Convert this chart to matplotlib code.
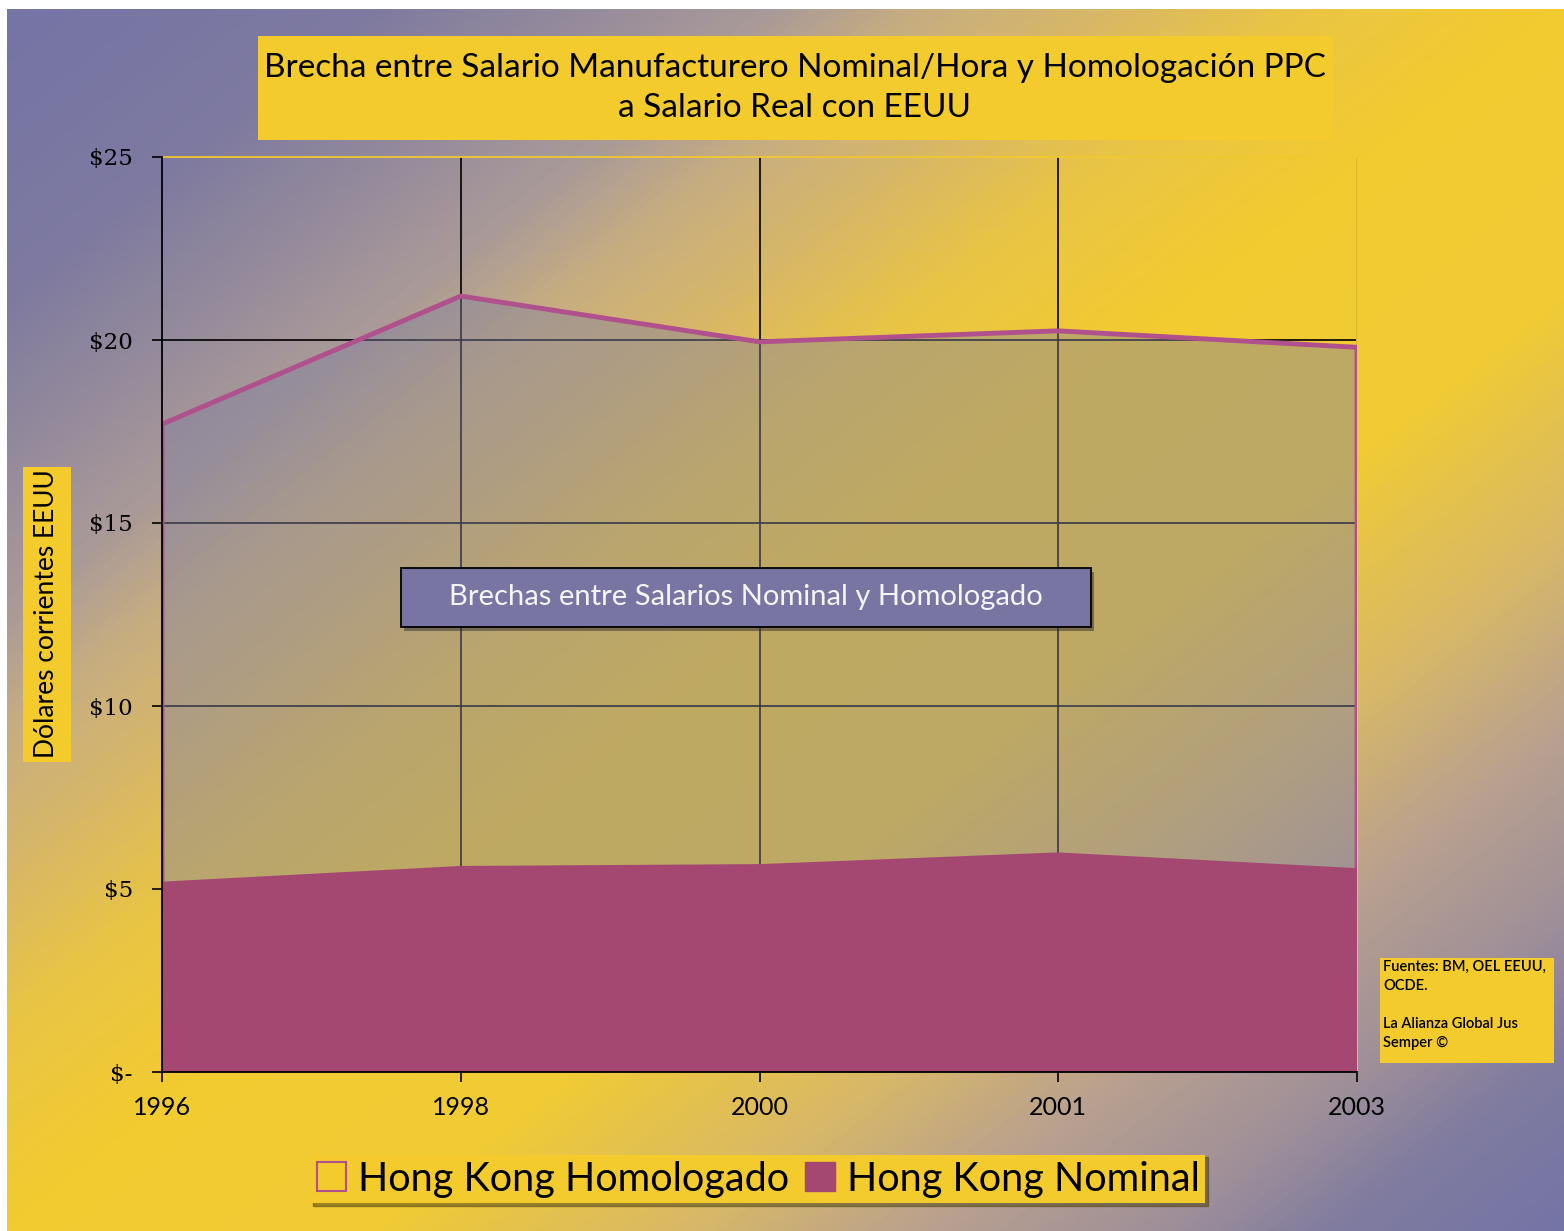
import numpy as np
import matplotlib
matplotlib.use("Agg")
import matplotlib.pyplot as plt
from matplotlib.colors import LinearSegmentedColormap
from matplotlib.patches import Rectangle, Patch

plt.rcParams['font.family'] = ['Lato', 'DejaVu Sans']

# data
years = ['1996', '1998', '2000', '2001', '2003']
homologado = [17.7, 21.2, 19.95, 20.25, 19.8]
nominal = [5.2, 5.63, 5.68, 6.0, 5.57]
yticks = [0, 5, 10, 15, 20, 25]
ytick_labels = ['$-', '$5', '$10', '$15', '$20', '$25']

W, H = 1564, 1231
fig = plt.figure(figsize=(W / 100, H / 100), dpi=100)
fig.patch.set_facecolor('white')

def fx(px):
    return px / W

def fy(py):
    return 1 - py / H

# diagonal gradient background
bg = fig.add_axes([fx(7), 0, 1 - fx(7), fy(9)])
bg.set_axis_off()
gx, gy = np.meshgrid(np.linspace(7, W, 400), np.linspace(9, H, 320))
t = (gx / W + gy / H) / 2
cmap = LinearSegmentedColormap.from_list('bg', [
    (0.0, '#7474a6'), (0.12, '#7e7aa0'), (0.25, '#aa9a98'), (0.30, '#c8ae80'),
    (0.35, '#d6b66a'), (0.42, '#eac544'), (0.50, '#f2cb30'), (0.62, '#f0cb35'),
    (0.72, '#d8b868'), (0.80, '#b8a090'), (0.87, '#a09098'), (0.93, '#807ca0'),
    (1.0, '#7474a6')])
bg.imshow(t, cmap=cmap, aspect='auto', extent=[0, 1, 0, 1], vmin=0, vmax=1)
bg.set_xlim(0, 1)
bg.set_ylim(0, 1)

# main chart
ax = fig.add_axes([fx(162), fy(1072), fx(1357 - 162), (1072 - 157) / H])
ax.set_facecolor('none')
x = np.arange(len(years))

for yv in [5, 10, 15, 20]:
    ax.axhline(yv, color='black', lw=1.2, zorder=1)
for xv in x[1:]:
    ax.axvline(xv, color='black', lw=1.2, zorder=1)

ax.fill_between(x, 0, homologado, facecolor='#8080a0', alpha=0.45, lw=0, zorder=2)
ax.plot(np.r_[x[0], x, x[-1]], np.r_[0, homologado, 0], color='#b0508c', lw=3.5,
        zorder=3, solid_joinstyle='miter')
ax.fill_between(x, 0, nominal, facecolor='#a44872', lw=0, zorder=4)

ax.set_xlim(0, 4)
ax.set_ylim(0, 25)
ax.set_xticks(x)
ax.set_xticklabels(years, fontsize=18)
ax.set_yticks(yticks)
ax.set_yticklabels(ytick_labels, fontsize=16.5, family=['DejaVu Serif'])
ax.tick_params(axis='both', length=7, width=1.2, color='black', pad=10)
ax.tick_params(axis='y', pad=14)
for s in ['left', 'bottom']:
    ax.spines[s].set_color('black')
    ax.spines[s].set_linewidth(1.3)
    ax.spines[s].set_zorder(5)
for s in ['top', 'right']:
    ax.spines[s].set_color('#f0c830')
    ax.spines[s].set_linewidth(1.3)

# title box
fig.patches.append(Rectangle((fx(258), fy(140)), fx(1333 - 258), (140 - 36) / H,
                             transform=fig.transFigure, facecolor='#f3cb2c', lw=0))
fig.text(fx(795), fy(88),
         'Brecha entre Salario Manufacturero Nominal/Hora y Homologación PPC\na Salario Real con EEUU',
         ha='center', va='center', fontsize=24, linespacing=1.4, color='black')

# y label box
fig.patches.append(Rectangle((fx(23), fy(762)), fx(71 - 23), (762 - 467) / H,
                             transform=fig.transFigure, facecolor='#f3cb2c', lw=0))
fig.text(fx(47), fy(614), 'Dólares corrientes EEUU', rotation=90,
         ha='center', va='center', fontsize=19)

# gap annotation box with shadow
fig.patches.append(Rectangle((fx(404), fy(631)), fx(690), 59 / H,
                             transform=fig.transFigure, facecolor='#303030',
                             alpha=0.5, lw=0, zorder=5))
fig.patches.append(Rectangle((fx(401), fy(627)), fx(690), 59 / H,
                             transform=fig.transFigure, facecolor='#7875a3',
                             edgecolor='black', lw=1.3, zorder=6))
fig.text(fx(746), fy(597), 'Brechas entre Salarios Nominal y Homologado',
         ha='center', va='center', fontsize=21, color='#f4f4f4', zorder=7)

# sources box
fig.patches.append(Rectangle((fx(1380), fy(1063)), fx(1554 - 1380), (1063 - 958) / H,
                             transform=fig.transFigure, facecolor='#f3cb2c', lw=0))
fig.text(fx(1383), fy(960),
         'Fuentes: BM, OEL EEUU,\nOCDE.\n\nLa Alianza Global Jus\nSemper ©',
         ha='left', va='top', fontsize=10.5, linespacing=1.45, fontweight='semibold')

# legend
handles = [Patch(facecolor='none', edgecolor='#b0508c', lw=1.5),
           Patch(facecolor='#a44872', edgecolor='#a44872')]
leg = fig.legend(handles, ['Hong Kong Homologado', 'Hong Kong Nominal'],
                 loc='center', bbox_to_anchor=(fx(758), fy(1179)), ncol=2,
                 fontsize=28.5, frameon=True, fancybox=False, shadow=True,
                 handlelength=0.75, handleheight=0.75, handletextpad=0.3,
                 columnspacing=0.4, borderpad=0.15, borderaxespad=0)
leg.get_frame().set_facecolor('#f3cb2c')
leg.get_frame().set_edgecolor('none')
leg.get_frame().set_alpha(1)

fig.savefig('out.png', dpi=100)
